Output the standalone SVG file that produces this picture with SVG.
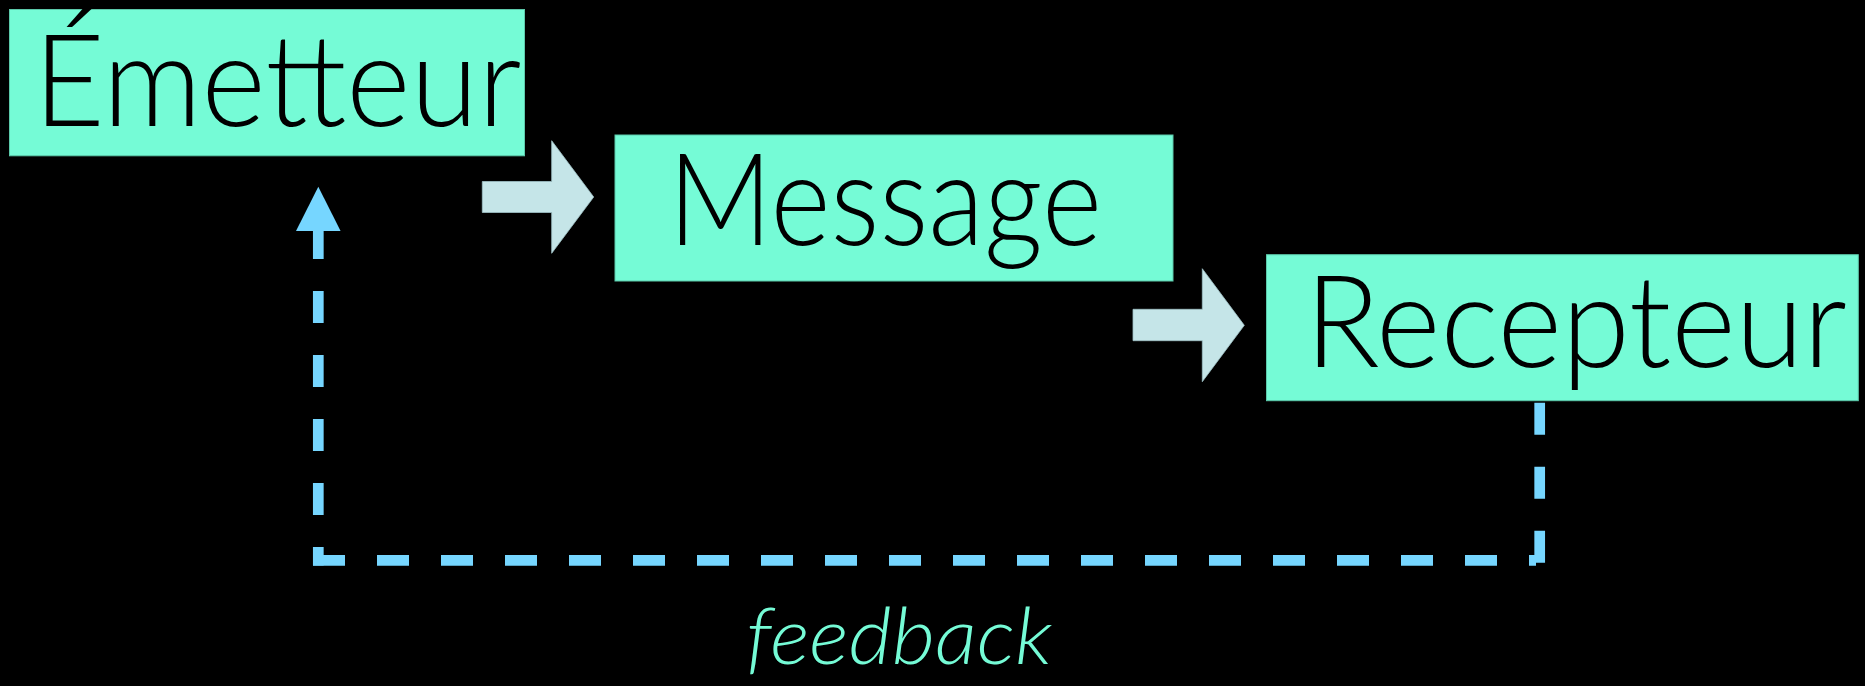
<svg xmlns="http://www.w3.org/2000/svg" width="1865" height="686" viewBox="0 0 1865 686">
  <style>
    .box { fill: #75FBD6; stroke: #5cc9aa; stroke-width: 1; }
    .label { font-family: "Lato", "Open Sans", "Liberation Sans", sans-serif; font-weight: 300; font-size: 129px; fill: #000000; text-anchor: middle; }
    .flow { fill: #C5E5E8; stroke: #9fc2c6; stroke-width: 0.8; }
    .dash { fill: none; stroke: #76D6FF; stroke-width: 10.7; stroke-dasharray: 32 32; stroke-linecap: butt; }
    .fb { font-family: "Lato", "Open Sans", "Liberation Sans", sans-serif; font-weight: 300; font-style: italic; font-size: 79px; fill: #75FBD6; text-anchor: middle; }
  </style>
  <rect x="0" y="0" width="1865" height="686" fill="#000000"/>

  <g id="connectors">
    <polygon class="flow" points="482.3,181.5 551.7,181.5 551.7,140.7 593.7,197 551.7,253.3 551.7,212.5 482.3,212.5"/>
    <polygon class="flow" points="1133,309.3 1202.3,309.3 1202.3,268.7 1244.3,325.3 1202.3,381.7 1202.3,340.7 1133,340.7"/>
    <g id="feedback-line">
      <line class="dash" x1="1539.7" y1="402.7" x2="1539.7" y2="562.7"/>
      <line class="dash" x1="1536" y1="560.3" x2="313" y2="560.3" stroke-dashoffset="25"/>
      <line class="dash" x1="318.3" y1="565.5" x2="318.3" y2="226" stroke-dashoffset="13.5"/>
      <polygon points="318.3,186.7 296,231 340.6,231" fill="#76D6FF"/>
    </g>
    <text class="fb" x="899" y="664" textLength="306" lengthAdjust="spacingAndGlyphs">feedback</text>
  </g>

  <g id="node-emetteur">
    <rect class="box" x="9.5" y="9.5" width="515" height="146.3"/>
    <text class="label" x="277.5" y="126" textLength="488" lengthAdjust="spacingAndGlyphs">Émetteur</text>
  </g>

  <g id="node-message">
    <rect class="box" x="615" y="135" width="558" height="146"/>
    <text class="label" x="885" y="245" textLength="434" lengthAdjust="spacingAndGlyphs">Message</text>
  </g>

  <g id="node-recepteur">
    <rect class="box" x="1266.5" y="254.7" width="591.8" height="146"/>
    <text class="label" x="1576" y="367.3" textLength="542" lengthAdjust="spacingAndGlyphs">Recepteur</text>
  </g>
</svg>
